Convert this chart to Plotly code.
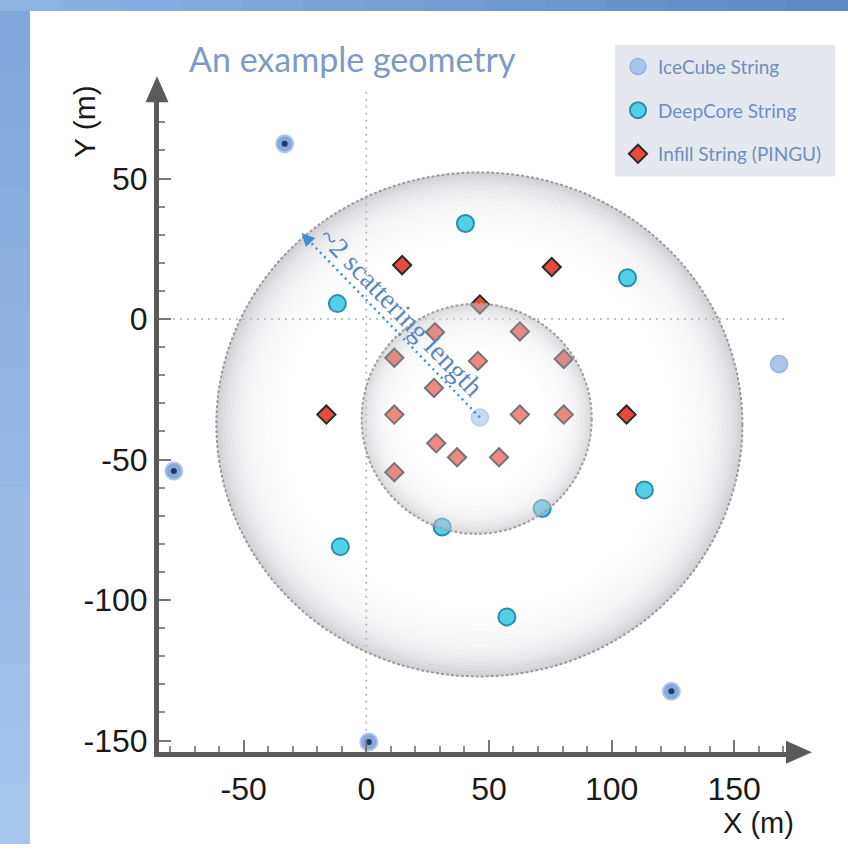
import math
import plotly.graph_objects as go

W, H = 848, 850

# ---------------- data (metres) ----------------
icecube_x = [89.4, 168.3, 46.3]
icecube_y = [82.5, -16.0, -35.0]
icecube_dot_x = [-33.3, -78.5, 1.0, 124.4]
icecube_dot_y = [62.4, -54.1, -150.5, -132.5]
deepcore_x = [40.4, -11.8, 106.5, 113.4, 71.7, 30.9, -10.6, 57.3]
deepcore_y = [34.0, 5.5, 14.7, -60.8, -67.4, -74.0, -81.0, -106.0]
pingu_x = [14.6, 75.6, 46.3, -16.3, 106.1, 28.0, 62.6, 11.4, 45.5, 80.5,
           27.6, 11.4, 62.6, 80.5, 28.5, 37.0, 54.1, 11.4]
pingu_y = [19.2, 18.5, 5.2, -34.0, -34.0, -4.7, -4.4, -13.8, -14.9, -14.2,
           -24.5, -34.0, -34.0, -34.0, -44.2, -49.2, -49.2, -54.5]
x_ticks = [-50, 0, 50, 100, 150]
y_ticks = [-150, -100, -50, 0, 50]
legend_names = ["IceCube String", "DeepCore String", "Infill String (PINGU)"]
title_text = "An example geometry"
arrow_text = "~2 scattering length"

# ---------------- layout constants ----------------
X_RANGE = [-84.55, 174.8]
Y_RANGE = [-154.0, 81.08]
XDOM = [159 / W, 795 / W]
YDOM = [(H - 758) / H, (H - 92) / H]
CENTER_IDX = 2               # index of the central IceCube string
OUTER_C = (46.1, -37.5)
OUTER_RX, OUTER_RY = 263, 252
INNER_C = (45.0, -35.5)
INNER_R = 115
ARROW_HEAD = (-26.4, 30.6)


def px(x):
    return x / W


def py(y):
    return 1 - y / H


def pellipse(c, rx, ry, layer, **kw):
    return dict(type="circle", xref="x", yref="y", xsizemode="pixel",
                ysizemode="pixel", xanchor=c[0], yanchor=c[1],
                x0=-rx, x1=rx, y0=-ry, y1=ry, layer=layer, **kw)


shapes = []

# background frame bands
n = 14
for i in range(n):
    t = i / (n - 1)
    c1 = (int(143 + (94 - 143) * t), int(180 + (137 - 180) * t), int(227 + (198 - 227) * t))
    shapes.append(dict(type="rect", xref="paper", yref="paper",
                       x0=px(W * i / n), x1=px(W * (i + 1) / n + 1), y0=py(11), y1=1,
                       fillcolor="rgb(%d,%d,%d)" % c1, line_width=0, layer="below"))
for i in range(n):
    t = i / (n - 1)
    c1 = (int(130 + (167 - 130) * t), int(167 + (198 - 167) * t), int(220 + (236 - 220) * t))
    shapes.append(dict(type="rect", xref="paper", yref="paper",
                       x0=0, x1=px(30), y0=py(11 + (H - 11) * (i + 1) / n + 1),
                       y1=py(11 + (H - 11) * i / n),
                       fillcolor="rgb(%d,%d,%d)" % c1, line_width=0, layer="below"))

# legend box
shapes.append(dict(type="rect", xref="paper", yref="paper", x0=px(615), x1=px(835),
                   y0=py(178), y1=py(45), fillcolor="#e5e9ef", line_width=0, layer="below"))

# outer disk with radial shading
shapes.append(pellipse(OUTER_C, OUTER_RX, OUTER_RY, "below", fillcolor="white", line_width=0))
for i in range(28):
    d = i * 2.5 + 1.25
    a = 0.44 * math.exp(-d / 19)
    shapes.append(pellipse(OUTER_C, OUTER_RX - d, OUTER_RY - d, "below",
                           fillcolor="rgba(0,0,0,0)",
                           line=dict(color="rgba(150,150,162,%.3f)" % a, width=2.8)))
shapes.append(pellipse(OUTER_C, OUTER_RX, OUTER_RY, "below", fillcolor="rgba(0,0,0,0)",
                       line=dict(color="#9a9a9e", width=2, dash="3px,2px")))

# dotted cross-hair lines
shapes.append(dict(type="line", xref="x", yref="y", x0=0, x1=0, y0=Y_RANGE[0], y1=83.5,
                   line=dict(color="#b0b0b0", width=1.6, dash="2px,5px"), layer="below"))
shapes.append(dict(type="line", xref="x", yref="y", x0=X_RANGE[0], x1=171.5, y0=0, y1=0,
                   line=dict(color="#b0b0b0", width=1.6, dash="2px,5px"), layer="below"))

# inner disk (semi-transparent, above markers)
shapes.append(pellipse(INNER_C, INNER_R, INNER_R, "above",
                       fillcolor="rgba(255,255,255,0.35)", line_width=0))
for i in range(18):
    d = i * 2.5 + 1.25
    a = 0.36 * math.exp(-d / 13)
    shapes.append(pellipse(INNER_C, INNER_R - d, INNER_R - d, "above",
                           fillcolor="rgba(0,0,0,0)",
                           line=dict(color="rgba(150,150,162,%.3f)" % a, width=2.8)))
shapes.append(pellipse(INNER_C, INNER_R, INNER_R, "above", fillcolor="rgba(0,0,0,0)",
                       line=dict(color="#a0a0a4", width=2, dash="3px,2px")))

# scattering-length dotted arrow line
shapes.append(dict(type="line", xref="x", yref="y",
                   x0=icecube_x[CENTER_IDX], y0=icecube_y[CENTER_IDX],
                   x1=ARROW_HEAD[0], y1=ARROW_HEAD[1],
                   line=dict(color="#3f8fd4", width=2.5, dash="2px,4px"), layer="above"))

# axis arrowheads
shapes.append(dict(type="path", xref="paper", yref="paper",
                   path="M %f %f L %f %f L %f %f Z" % (px(157), py(77), px(145.5), py(103), px(168.5), py(103)),
                   fillcolor="#5a5a5a", line_width=0, layer="above"))
shapes.append(dict(type="path", xref="paper", yref="paper",
                   path="M %f %f L %f %f L %f %f Z" % (px(812), py(758.5), px(786), py(747), px(786), py(770)),
                   fillcolor="#5a5a5a", line_width=0, layer="above"))

fig = go.Figure()

fig.add_trace(go.Scatter(
    x=icecube_x, y=icecube_y, mode="markers", name=legend_names[0], legendgroup="ic",
    marker=dict(symbol="circle", size=17, color="#abc5ea", line=dict(color="#93b2df", width=1.5)),
    cliponaxis=False))
fig.add_trace(go.Scatter(
    x=icecube_dot_x, y=icecube_dot_y, mode="markers", showlegend=False, legendgroup="ic",
    marker=dict(symbol="circle", size=17, color="#86a8da", line=dict(color="#aec6ea", width=2)),
    cliponaxis=False))
fig.add_trace(go.Scatter(
    x=icecube_dot_x, y=icecube_dot_y, mode="markers", showlegend=False, legendgroup="ic",
    marker=dict(symbol="circle", size=6, color="#1f3a66", line=dict(width=0)),
    cliponaxis=False))
fig.add_trace(go.Scatter(
    x=deepcore_x, y=deepcore_y, mode="markers", name=legend_names[1], legendgroup="dc",
    marker=dict(symbol="circle", size=17, color="#52d0ea", line=dict(color="#2b8ea6", width=2)),
    cliponaxis=False))
fig.add_trace(go.Scatter(
    x=pingu_x, y=pingu_y, mode="markers", name=legend_names[2], legendgroup="pg",
    marker=dict(symbol="diamond", size=14, color="#e84a3b", line=dict(color="#2a2a2a", width=2)),
    cliponaxis=False))

tickfont = dict(family="Liberation Sans, Arial, sans-serif", size=32, color="#1a1a1a")
axis_common = dict(showline=True, linecolor="#5a5a5a", linewidth=5, ticks="inside",
                   ticklen=12, tickwidth=2, tickcolor="#777777", showgrid=False,
                   zeroline=False, tickfont=tickfont, tickmode="array",
                   minor=dict(tickmode="linear", tick0=0, dtick=10, ticks="inside",
                              ticklen=6, tickwidth=1.5, tickcolor="#8a8a8a", showgrid=False))

fig.update_layout(
    width=W, height=H, margin=dict(l=0, r=0, t=0, b=0),
    paper_bgcolor="white", plot_bgcolor="rgba(0,0,0,0)",
    xaxis=dict(domain=XDOM, range=X_RANGE, tickvals=x_ticks, ticklabelstandoff=5,
               ticktext=[str(v) for v in x_ticks], **axis_common),
    yaxis=dict(domain=YDOM, range=Y_RANGE, tickvals=y_ticks,
               ticktext=[str(v) for v in y_ticks], **axis_common),
    showlegend=True,
    legend=dict(x=px(618), y=py(48), xanchor="left", yanchor="top",
                bgcolor="rgba(0,0,0,0)", borderwidth=0, traceorder="grouped",
                tracegroupgap=16,
                font=dict(family="Lato, sans-serif", size=19, color="#6d8fc2")),
    shapes=shapes,
    annotations=[
        dict(text=title_text, xref="paper", yref="paper", x=px(187), y=py(59),
             xanchor="left", yanchor="middle", showarrow=False,
             font=dict(family="Lato, sans-serif", size=34, color="#7d9bc6")),
        dict(text="X (m)", xref="paper", yref="paper", x=px(758), y=py(830),
             xanchor="center", yanchor="middle", showarrow=False,
             font=dict(family="Liberation Sans, Arial, sans-serif", size=29, color="#1a1a1a")),
        dict(text="Y (m)", xref="paper", yref="paper", x=px(85), y=py(123),
             xanchor="center", yanchor="middle", showarrow=False, textangle=-90,
             font=dict(family="Liberation Sans, Arial, sans-serif", size=30, color="#1a1a1a")),
        dict(text=arrow_text, xref="x", yref="y", x=14.0, y=2.6, showarrow=False,
             textangle=46,
             font=dict(family="Liberation Serif, Times New Roman, serif", size=28, color="#5a88c0")),
        dict(text="", xref="x", yref="y", x=ARROW_HEAD[0], y=ARROW_HEAD[1],
             ax=10, ay=10.5, showarrow=True, arrowhead=2, arrowsize=1.3,
             arrowwidth=2, arrowcolor="#3f8fd4"),
    ],
)

fig.write_html("out.html")
